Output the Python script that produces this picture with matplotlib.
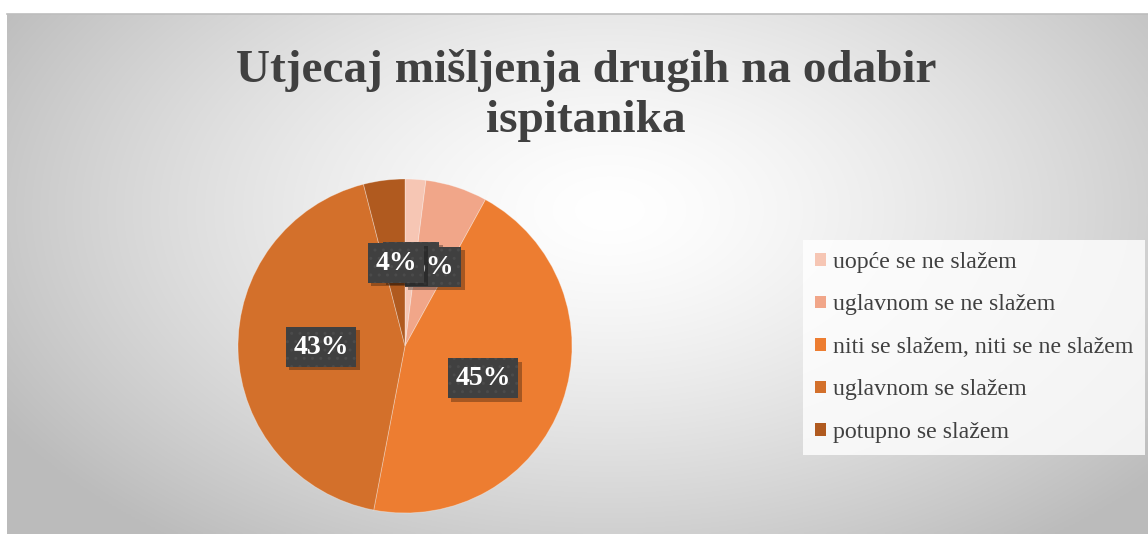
import numpy as np
import matplotlib
matplotlib.use("Agg")
import matplotlib.pyplot as plt

# -------------------- 数据 --------------------
categories = ["uopće se ne slažem", "uglavnom se ne slažem",
              "niti se slažem, niti se ne slažem", "uglavnom se slažem",
              "potupno se slažem"]
values = [2, 6, 45, 43, 4]
colors = ["#F6C6B4", "#F1A689", "#ED7D31", "#D3702B", "#B05A1F"]
title = "Utjecaj mišljenja drugih na odabir\nispitanika"

W, H = 1148, 535
fig = plt.figure(figsize=(W / 100, H / 100), dpi=100)
fig.patch.set_facecolor("white")

# -------------------- 背景渐变 --------------------
bg = fig.add_axes([0, 0, 1, 1])
bg.set_xlim(0, W)
bg.set_ylim(H, 0)
bg.axis("off")
x0, x1, y0, y1 = 7, W, 14, 534
xx, yy = np.meshgrid(np.linspace(x0, x1, 400), np.linspace(y0, y1, 200))
d = np.sqrt(((xx - 610) / 640) ** 2 + ((yy - 210) / 380) ** 2)
g = 1 - 0.23 * np.clip(d, 0, 1.1) ** 1.4
bg.imshow(np.dstack([g, g, g]), extent=(x0, x1, y1, y0), aspect="auto",
          interpolation="bilinear", zorder=0)
bg.plot([x0, x1], [y0, y0], color="#bdbdbd", lw=1.2, zorder=1)

bg.text(586, 96, title, ha="center", va="center", fontsize=34,
        fontweight="bold", family="Liberation Serif", color="#404040",
        linespacing=1.25, zorder=2)

# -------------------- 饼图 --------------------
cx, cy, r = 405, 346, 167
ax = fig.add_axes([(cx - r) / W, (H - cy - r) / H, 2 * r / W, 2 * r / H])
ax.axis("off")

wedges, texts, autotexts = ax.pie(
    values, colors=colors, startangle=90, counterclock=False, radius=1,
    autopct=lambda p: f"{p:.0f}%",
    wedgeprops=dict(edgecolor=(1, 1, 1, 0.35), linewidth=0.6),
    textprops=dict(color="white", fontsize=20, fontweight="bold",
                   family="Liberation Serif"))
ax.set_xlim(-1, 1)
ax.set_ylim(-1, 1)

label_pos = [(0.036, 0.503), (0.168, 0.473), (0.467, -0.192),
             (-0.503, -0.006), (-0.054, 0.497)]
for i, (t, pos) in enumerate(zip(autotexts, label_pos)):
    t.set_position(pos)
    t.set_ha("center")
    t.set_va("center")
    t.set_zorder(11 + 2 * i)
    t.set_bbox(dict(boxstyle="square,pad=0.27", facecolor="#404040",
                    edgecolor="#4b4b4b", linewidth=0, hatch=".."))
    ax.annotate(t.get_text(), xy=pos, xytext=(2.5, -2.5),
                textcoords="offset points", ha="center", va="center",
                fontsize=20, fontweight="bold", family="Liberation Serif",
                color=(0, 0, 0, 0), zorder=10 + 2 * i,
                bbox=dict(boxstyle="square,pad=0.27",
                          facecolor=(0, 0, 0, 0.3), edgecolor="none"))

# -------------------- 图例 --------------------
leg = fig.legend(wedges, categories, loc="upper left",
                 bbox_to_anchor=(803 / W, 1 - 240 / H),
                 prop=dict(family="Liberation Serif", size=17.2),
                 handlelength=0.45, handleheight=0.45, handletextpad=0.3,
                 labelspacing=0.9, borderpad=0.5, borderaxespad=0,
                 fancybox=False, frameon=True)
leg.get_frame().set_facecolor((1, 1, 1, 0.2))
leg.get_frame().set_edgecolor("none")
for txt in leg.get_texts():
    txt.set_color("#404040")
for h in leg.legend_handles:
    h.set_edgecolor("none")

fig.savefig("out.png", dpi=100)
